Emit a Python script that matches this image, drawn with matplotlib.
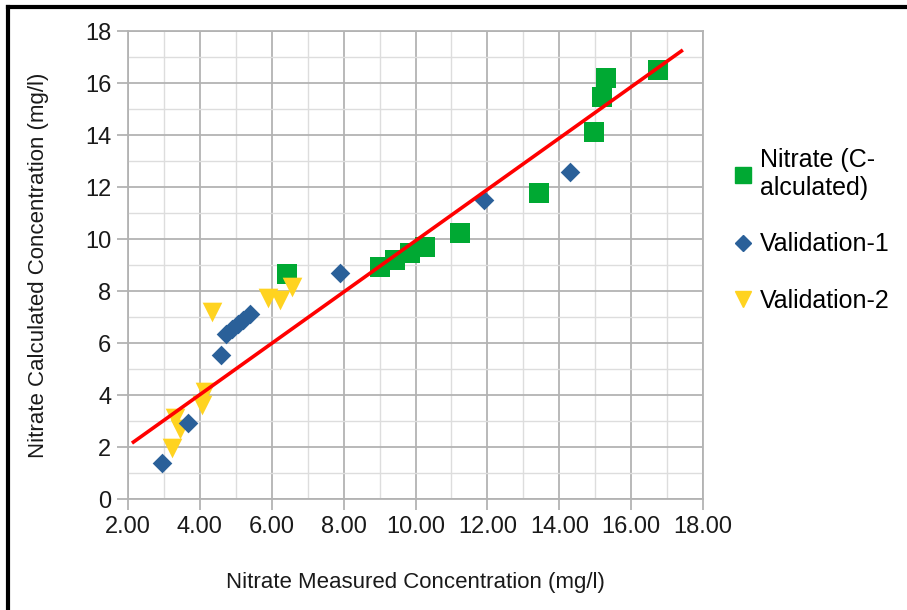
import matplotlib
matplotlib.use("Agg")
import matplotlib.pyplot as plt
from matplotlib.lines import Line2D
from matplotlib.ticker import MultipleLocator, FixedLocator

plt.rcParams['font.family'] = ['Liberation Sans', 'DejaVu Sans']

# Data
nitrate_x = [6.42, 9.01, 9.43, 9.85, 10.26, 11.24, 13.44, 14.97, 15.19, 15.30, 16.75]
nitrate_y = [8.65, 8.92, 9.19, 9.46, 9.69, 10.23, 11.77, 14.12, 15.46, 16.19, 16.50]

val1_x = [2.95, 3.67, 4.59, 4.72, 4.90, 5.05, 5.20, 5.40, 7.90, 11.90, 14.30]
val1_y = [1.38, 2.92, 5.54, 6.35, 6.55, 6.75, 6.90, 7.10, 8.69, 11.50, 12.58]

val2_x = [3.22, 3.30, 3.45, 4.06, 4.14, 4.34, 5.90, 6.23, 6.56]
val2_y = [1.96, 3.10, 2.70, 3.60, 4.10, 7.20, 7.73, 7.65, 8.15]

fit_x = [2.11, 17.44]
fit_y = [2.15, 17.27]

x_ticks = [2, 4, 6, 8, 10, 12, 14, 16, 18]
x_labels = ["2.00", "4.00", "6.00", "8.00", "10.00", "12.00", "14.00", "16.00", "18.00"]
y_ticks = [0, 2, 4, 6, 8, 10, 12, 14, 16, 18]

green = "#00a933"
blue = "#2a6099"
yellow = "#ffd320"

fig = plt.figure(figsize=(9.07, 6.10), dpi=100)
ax = fig.add_axes([128/907, 1-499/610, (703-128)/907, (499-31)/610])

ax.set_xlim(2, 18)
ax.set_ylim(0, 18)

ax.xaxis.set_major_locator(FixedLocator(x_ticks))
ax.set_xticklabels(x_labels)
ax.yaxis.set_major_locator(FixedLocator(y_ticks))
ax.xaxis.set_minor_locator(MultipleLocator(1))
ax.yaxis.set_minor_locator(MultipleLocator(1))

ax.grid(which='major', color='#b3b3b3', linewidth=1.3, zorder=0)
ax.grid(which='minor', color='#dddddd', linewidth=1.0, zorder=0)
ax.set_axisbelow(True)

for s in ax.spines.values():
    s.set_color('#b3b3b3')
    s.set_linewidth(1.3)

ax.tick_params(which='major', direction='out', length=8, width=1.3, color='#b3b3b3',
               labelsize=17, labelcolor='#1a1a1a', pad=4)
ax.tick_params(which='minor', length=0)

ax.scatter(nitrate_x, nitrate_y, marker='s', s=190, color=green, zorder=3, linewidths=0)
ax.scatter(val1_x, val1_y, marker='D', s=100, color=blue, zorder=4, linewidths=0)
ax.scatter(val2_x, val2_y, marker='v', s=200, color=yellow, zorder=3, linewidths=0)
ax.plot(fit_x, fit_y, color='#ff0000', linewidth=2.6, zorder=5, solid_capstyle='butt')

ax.set_xlabel("Nitrate Measured Concentration (mg/l)", fontsize=16, color='#1a1a1a', labelpad=25)
ax.set_ylabel("Nitrate Calculated Concentration (mg/l)", fontsize=16, color='#1a1a1a', labelpad=26)

handles = [
    Line2D([], [], linestyle='none', marker='s', markersize=11, color=green),
    Line2D([], [], linestyle='none', marker='D', markersize=8, color=blue),
    Line2D([], [], linestyle='none', marker='v', markersize=11, color=yellow),
]
labels = ["Nitrate (C-\nalculated)", "Validation-1", "Validation-2"]
fig.legend(handles, labels, loc='upper left', bbox_to_anchor=(735/907, 1-148/610),
           frameon=False, fontsize=18, handlelength=0.6, handletextpad=0.4,
           labelspacing=1.3, borderaxespad=0, borderpad=0)

# Border
fig.add_artist(Line2D([8/907, 8/907], [0, 1-7/610], transform=fig.transFigure,
                      color='black', linewidth=3))
fig.add_artist(Line2D([8/907, 1], [1-7/610, 1-7/610], transform=fig.transFigure,
                      color='black', linewidth=3))

fig.savefig("out.png", dpi=100, facecolor='white')
